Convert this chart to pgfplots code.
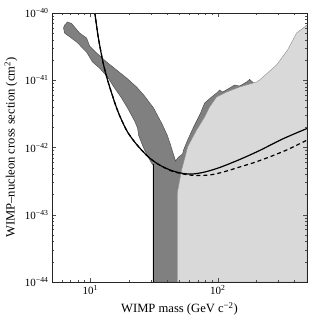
\documentclass[border=0pt]{standalone}
\usepackage{fontspec}
\setmainfont{Liberation Serif}
\usepackage{pgfplots}
\pgfplotsset{compat=1.18}
\definecolor{darkreg}{HTML}{808080}
\definecolor{darkedge}{HTML}{505050}
\definecolor{lightreg}{HTML}{D9D9D9}
\definecolor{lightedge}{HTML}{8C8C8C}
\begin{document}
\begin{tikzpicture}
\useasboundingbox (-52pt,-37pt) rectangle (259pt,282pt);
\begin{axis}[
 scale only axis, width=255pt, height=269pt,
 xmode=log, ymode=log, xmin=5, xmax=500, ymin=1e-44, ymax=1e-40,
 xtick={10,100}, xticklabels={10\textsuperscript{1},10\textsuperscript{2}},
 ytick={1e-44,1e-43,1e-42,1e-41,1e-40},
 yticklabels={10\textsuperscript{−44},10\textsuperscript{−43},10\textsuperscript{−42},10\textsuperscript{−41},10\textsuperscript{−40}},
 minor xtick={6,7,8,9,20,30,40,50,60,70,80,90,200,300,400},
 minor ytick={2e-44,3e-44,4e-44,5e-44,6e-44,7e-44,8e-44,9e-44,
              2e-43,3e-43,4e-43,5e-43,6e-43,7e-43,8e-43,9e-43,
              2e-42,3e-42,4e-42,5e-42,6e-42,7e-42,8e-42,9e-42,
              2e-41,3e-41,4e-41,5e-41,6e-41,7e-41,8e-41,9e-41},
 tick label style={font=\fontsize{11}{13}\selectfont},
 label style={font=\fontsize{12.6}{15}\selectfont},
 xlabel={WIMP mass (GeV c\textsuperscript{−2})},
 ylabel={WIMP–nucleon cross section (cm\textsuperscript{2})},
 xlabel style={at={(axis description cs:0.5,-0.1004)}, anchor=center},
 ylabel style={at={(axis description cs:-0.161,0.5)}, anchor=center},
 axis on top, axis line style={line width=0.6pt, color=black!85},
 major tick length=4pt, minor tick length=2pt,
 tick style={line width=0.5pt, color=black!70},
]
% dark region
\addplot[fill=darkreg, draw=darkedge, line width=0.5pt] coordinates {
(6.16,5.98e-41) (6.28,6.63e-41) (6.62,7.35e-41) (7.12,6.98e-41) (8.23,5.04e-41) (9.34,4.25e-41) (9.86,3.23e-41) (11.19,2.54e-41) (13.40,1.87e-41) (16.06,1.42e-41) (19.23,1.08e-41) (23.04,7.94e-42) (26.61,5.83e-42) (31.31,3.87e-42) (36.84,2.16e-42) (40.32,1.48e-42) (42.56,1.09e-42) (44.94,7.74e-43) (46.59,6.30e-43) (49.19,7.22e-43) (52.85,8.01e-43) (53.8,9.18e-43) (57.9,1.29e-42) (64.5,2.02e-42) (73.2,3.26e-42) (78.7,4.59e-42) (89.3,5.64e-42) (97.7,6.46e-42) (103.1,7.16e-42) (108.9,6.69e-42) (123.6,7.67e-42) (135.2,8.50e-42) (148.0,8.21e-42) (168.0,9.42e-42) (177.3,1.03e-41) (190.5,9.10e-42) (190.5,1e-44) (31.03,1e-44) (31.03,5.49e-43) (30.20,5.88e-43) (28.09,7.47e-43) (26.61,9.18e-43) (25.21,1.17e-42) (23.88,1.53e-42) (23.46,1.95e-42) (22.23,2.48e-42) (19.58,3.87e-42) (17.57,5.45e-42) (15.49,7.67e-42) (13.64,1.12e-41) (11.81,1.52e-41) (10.40,1.87e-41) (9.34,2.63e-41) (7.80,3.71e-41) (6.28,5.04e-41)
} -- cycle;
% light region
\addplot[fill=lightreg, draw=lightedge, line width=0.4pt] coordinates {
(48.05,1e-44) (48.05,2.11e-43) (51.9,4.63e-43) (55.8,7.74e-43) (57.9,1.02e-42) (68.1,1.82e-42) (78.7,2.84e-42) (86.1,4.00e-42) (97.7,5.64e-42) (117.0,6.69e-42) (148.0,7.94e-42) (201.2,9.42e-42) (212.4,1.01e-41) (288.7,1.69e-41) (352.1,2.82e-41) (414.3,5.04e-41) (500,6.63e-41) (500,1e-44)
} -- cycle;
% vertical edge
\addplot[black, line width=0.8pt] coordinates {(31.03,1e-44) (31.03,5.6e-43)};
% solid limit
\addplot[black, line width=1.2pt, smooth] coordinates {
(10.65,1.3e-40) (11.39,5.04e-41) (12.02,2.82e-41) (12.69,1.69e-41) (13.64,1.01e-41) (14.67,6.46e-42) (16.06,3.87e-42) (17.57,2.56e-42) (19.58,1.70e-42) (22.23,1.21e-42) (25.21,9.18e-43) (29.13,6.98e-43) (34.89,5.49e-43) (43.35,4.55e-43) (52.85,4.13e-43) (63.3,4.04e-43) (78.7,4.32e-43) (103.1,5.04e-43) (148.0,6.63e-43) (212.4,9.03e-43) (321.7,1.34e-42) (500,1.92e-42)};
% dashed limit
\addplot[black, line width=1.2pt, dash pattern=on 4pt off 3pt, smooth] coordinates {
(10.65,1.3e-40) (11.39,5.04e-41) (12.02,2.82e-41) (12.69,1.69e-41) (13.64,1.01e-41) (14.67,6.46e-42) (16.06,3.87e-42) (17.57,2.56e-42) (19.58,1.70e-42) (22.23,1.21e-42) (25.21,9.18e-43) (29.13,6.98e-43) (34.89,5.49e-43) (43.35,4.47e-43) (52.85,4.06e-43) (59.98,3.90e-43) (71.9,3.83e-43) (90.9,3.97e-43) (117.0,4.47e-43) (148.0,5.13e-43) (187.2,5.88e-43) (241.0,6.98e-43) (345.7,9.18e-43) (500,1.29e-42)};
\end{axis}
\end{tikzpicture}
\end{document}
